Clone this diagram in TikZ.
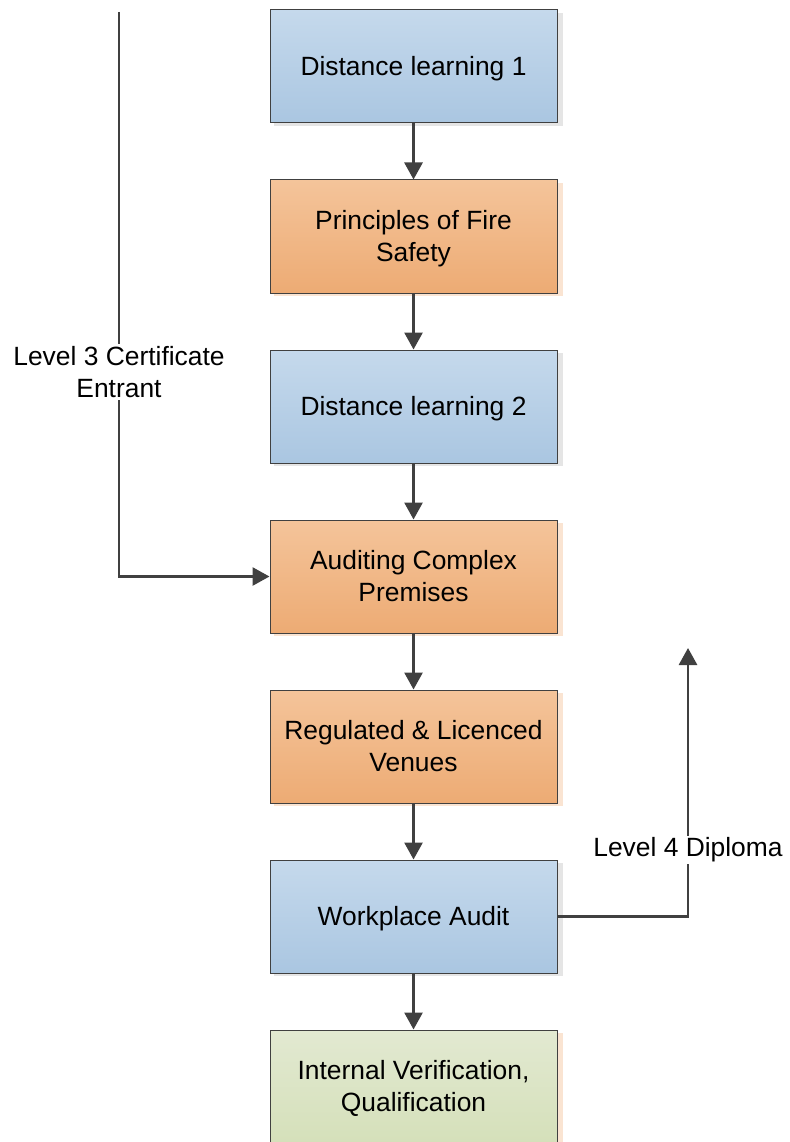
\documentclass[tikz,border=0pt]{standalone}
\usepackage{fontspec}
\setmainfont{Liberation Sans}
\usetikzlibrary{arrows.meta}
\definecolor{bluetop}{RGB}{197,217,236}
\definecolor{bluebot}{RGB}{170,198,225}
\definecolor{orgtop}{RGB}{244,196,154}
\definecolor{orgbot}{RGB}{237,171,116}
\definecolor{grntop}{RGB}{226,233,209}
\definecolor{grnbot}{RGB}{213,224,186}
\definecolor{edge}{RGB}{64,64,64}
\newcommand{\boxtxt}[1]{\raisebox{0pt}[\dimexpr\height+5pt\relax][\depth]{\begin{tabular}{@{}c@{}}#1\end{tabular}}}
\begin{document}
\begin{tikzpicture}[x=1pt,y=-1pt,
  font=\fontsize{26.4}{32}\selectfont,
  boxbase/.style={draw=edge,line width=1pt,minimum width=287pt,minimum height=113pt,
     inner sep=0pt},
  bluebox/.style={boxbase,top color=bluetop,bottom color=bluebot},
  orgbox/.style={boxbase,top color=orgtop,bottom color=orgbot},
  grnbox/.style={boxbase,top color=grntop,bottom color=grnbot},
  conn/.style={draw=edge,line width=2.8pt,-{Triangle[length=17pt,width=18pt]}},
  lbl/.style={fill=white,align=center,inner sep=2pt}]
\useasboundingbox (0,0) rectangle (789,1142);
\begin{scope}
\clip (0,0) rectangle (789,1142);
% shadows
\foreach \yc/\col in {66.5/gray!20,236.5/orgtop!45,406.5/gray!20,576.5/orgtop!45,746.5/orgtop!45,916.5/gray!20,1086.5/orgtop!45}{
  \fill[\col] (557,\yc-53.5) rectangle (563,\yc+59.5);
  \fill[\col] (274,\yc+56.5) rectangle (563,\yc+59.5);
}
\node[bluebox] (b1) at (413.5,66.5) {\boxtxt{Distance learning 1}};
\node[orgbox] (b2) at (413.5,236.5) {\boxtxt{Principles of Fire\\Safety}};
\node[bluebox] (b3) at (413.5,406.5) {\boxtxt{Distance learning 2}};
\node[orgbox] (b4) at (413.5,576.5) {\boxtxt{Auditing Complex\\Premises}};
\node[orgbox] (b5) at (413.5,746.5) {\boxtxt{Regulated \& Licenced\\Venues}};
\node[bluebox] (b6) at (413.5,916.5) {\boxtxt{Workplace Audit}};
\node[grnbox] (b7) at (413.5,1086.5) {\boxtxt{Internal Verification,\\Qualification}};
\end{scope}
\draw[conn] (b1) -- (b2);
\draw[conn] (b2) -- (b3);
\draw[conn] (b3) -- (b4);
\draw[conn] (b4) -- (b5);
\draw[conn] (b5) -- (b6);
\draw[conn] (b6) -- (b7);
\coordinate (ltop) at (119,12);
\coordinate (rtop) at (688,648);
\draw[conn] (ltop) |- (b4.west);
\draw[conn] (b6.east) -| (rtop);
\node[lbl] (l3) at (119,372) {Level 3 Certificate\\Entrant};
\node[lbl] (l4) at (688,850) {Level 4 Diploma};
\end{tikzpicture}
\end{document}
